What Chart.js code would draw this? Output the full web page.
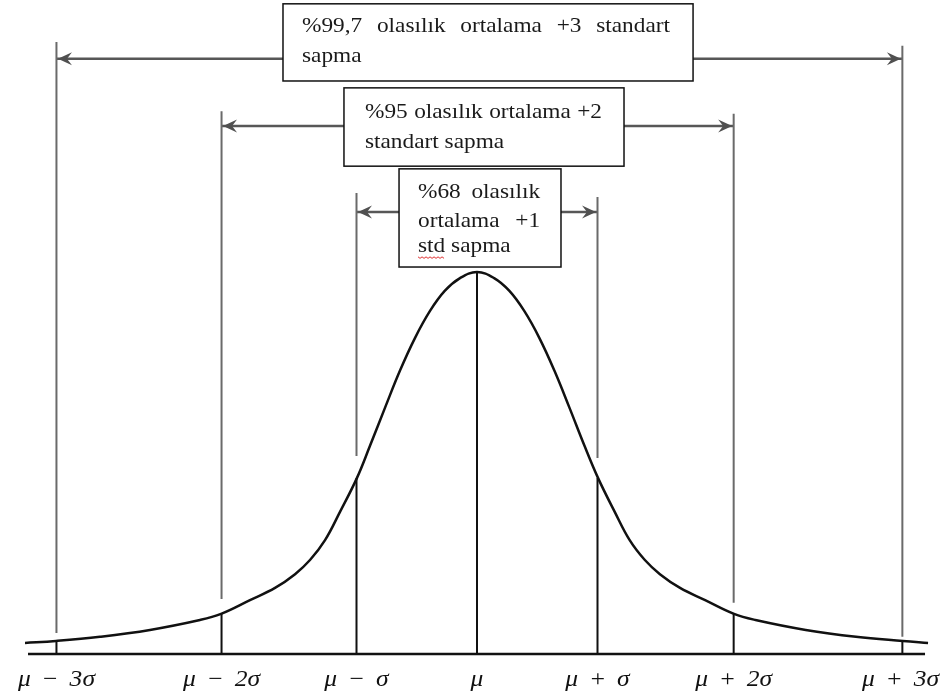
<!DOCTYPE html>
<html>
<head>
<meta charset="utf-8">
<script src="https://cdn.jsdelivr.net/npm/chart.js@4"></script>
<style>
  html, body { margin: 0; padding: 0; background: #fff; }
  canvas { display: block; }
</style>
</head>
<body>
<canvas id="grafico-normal" width="943" height="698"></canvas>
<script>
// Etiquetas del eje y su posición (en unidades de sigma, tal como está dibujado)
const etiquetas = ["μ − 3σ", "μ − 2σ", "μ − σ", "μ", "μ + σ", "μ + 2σ", "μ + 3σ"];
const posiciones = [-3.49, -2.12, -1.0, 0, 1.0, 2.13, 3.53];

// Altura de la curva en cada posición (pico = 1)
const alturaCurva = [0.034, 0.105, 0.461, 1.0, 0.461, 0.105, 0.034];

// Líneas guía grises: extremo superior e inferior (μ no tiene guía)
const guiaArriba = [1.602, 1.421, 1.207, null, 1.196, 1.414, 1.592];
const guiaAbajo = [0.055, 0.144, 0.518, null, 0.513, 0.134, 0.045];

// Curva de campana
const curvaX = [-3.751, -3.494, -3.129, -2.714, -2.299, -2.124, -1.884, -1.676, -1.510, -1.386, -1.261,
  -1.137, -0.996, -0.888, -0.763, -0.639, -0.515, -0.390, -0.266, -0.141, 0,
  0.142, 0.267, 0.392, 0.518, 0.642, 0.767, 0.892, 1.004, 1.143, 1.267, 1.393, 1.518,
  1.685, 1.893, 2.133, 2.311, 2.728, 3.145, 3.535, 3.743];
const curvaY = [0.029, 0.034, 0.045, 0.063, 0.089, 0.105, 0.141, 0.173, 0.209, 0.246, 0.298,
  0.372, 0.461, 0.545, 0.645, 0.742, 0.827, 0.898, 0.951, 0.984, 1.0,
  0.984, 0.951, 0.898, 0.827, 0.742, 0.645, 0.545, 0.461, 0.372, 0.298, 0.246, 0.209,
  0.173, 0.141, 0.105, 0.089, 0.063, 0.045, 0.034, 0.029];

// Extremos de la línea base
const baseX = [-3.726, 3.718];

// Cuadros de texto
const cuadroTextos = [
  ["%99,7 olasılık ortalama +3 standart", "sapma"],
  ["%95 olasılık ortalama +2", "standart sapma"],
  ["%68 olasılık", "ortalama +1", "std sapma"]
];
const cuadroIzq = [-1.610, -1.104, -0.647];
const cuadroDer = [1.793, 1.220, 0.697];
const cuadroArriba = [1.702, 1.482, 1.270];
const cuadroAbajo = [1.500, 1.277, 1.013];

// Flechas: altura y guía a la que apunta cada lado
const flechaY = [1.558, 1.382, 1.157];
const flechaIzq = [0, 1, 2];
const flechaDer = [6, 5, 4];

// Segmentos verticales separados por null para cortar la línea
function verticales(xs, desde, hasta) {
  const pts = [];
  xs.forEach((x, i) => {
    if (desde[i] == null || hasta[i] == null) return;
    pts.push({ x, y: desde[i] }, { x, y: hasta[i] }, { x, y: null });
  });
  return pts;
}

const puntosFlechas = [];
flechaY.forEach((y, i) => {
  puntosFlechas.push({ x: cuadroIzq[i], y }, { x: posiciones[flechaIzq[i]], y }, { x: cuadroIzq[i], y: null });
  puntosFlechas.push({ x: cuadroDer[i], y }, { x: posiciones[flechaDer[i]], y }, { x: cuadroDer[i], y: null });
});

// el texto va algo ensanchado horizontalmente
const ensanche = 1.11;
const estiloTexto = {
  fuente: "21px 'Liberation Serif'",
  margen: [19, 21, 19],
  ancho: [368, 237, 122],
  renglones: [[28, 58], [30, 60], [29, 58, 83]]
};

function textoAncho(ctx, t, x, y) {
  ctx.save();
  ctx.translate(x, y);
  ctx.scale(ensanche, 1);
  ctx.fillText(t, 0, 0);
  ctx.restore();
}

function medir(ctx, t) {
  return ctx.measureText(t).width * ensanche;
}

function renglonJustificado(ctx, texto, x, y, ancho, justificar) {
  const palabras = texto.split(" ");
  if (!justificar || palabras.length < 2) {
    textoAncho(ctx, texto, x, y);
    return;
  }
  const total = palabras.reduce((s, p) => s + medir(ctx, p), 0);
  const hueco = (ancho - total) / (palabras.length - 1);
  let cx = x;
  palabras.forEach(p => {
    textoAncho(ctx, p, cx, y);
    cx += medir(ctx, p) + hueco;
  });
}

const anotaciones = {
  id: "anotaciones",
  afterDatasetsDraw(chart) {
    const ctx = chart.ctx;
    const sx = chart.scales.x;
    const sy = chart.scales.y;
    ctx.save();

    // puntas de flecha
    ctx.fillStyle = "#505050";
    flechaY.forEach((y, i) => {
      const py = sy.getPixelForValue(y);
      [[flechaIzq[i], -1], [flechaDer[i], 1]].forEach(([g, dir]) => {
        const px = sx.getPixelForValue(posiciones[g]) - dir * 1.5;
        ctx.beginPath();
        ctx.moveTo(px, py);
        ctx.lineTo(px - dir * 14, py - 6.5);
        ctx.lineTo(px - dir * 9, py);
        ctx.lineTo(px - dir * 14, py + 6.5);
        ctx.closePath();
        ctx.fill();
      });
    });

    // cuadros con texto
    cuadroTextos.forEach((lineas, i) => {
      const x0 = sx.getPixelForValue(cuadroIzq[i]);
      const x1 = sx.getPixelForValue(cuadroDer[i]);
      const y0 = sy.getPixelForValue(cuadroArriba[i]);
      const y1 = sy.getPixelForValue(cuadroAbajo[i]);
      ctx.fillStyle = "#fff";
      ctx.fillRect(x0, y0, x1 - x0, y1 - y0);
      ctx.strokeStyle = "#111";
      ctx.lineWidth = 1.5;
      ctx.strokeRect(x0, y0, x1 - x0, y1 - y0);

      ctx.fillStyle = "#1a1a1a";
      ctx.font = estiloTexto.fuente;
      ctx.textBaseline = "alphabetic";
      ctx.textAlign = "left";
      lineas.forEach((t, j) => {
        renglonJustificado(ctx, t, x0 + estiloTexto.margen[i], y0 + estiloTexto.renglones[i][j],
          estiloTexto.ancho[i], j < lineas.length - 1);
      });

      // subrayado ondulado del corrector bajo "std"
      if (i === 2) {
        const ty = y0 + estiloTexto.renglones[i][2] + 5;
        const tx = x0 + estiloTexto.margen[i];
        const w = medir(ctx, "std");
        ctx.strokeStyle = "#e03030";
        ctx.lineWidth = 1;
        ctx.beginPath();
        for (let k = 0; k <= w; k += 2) {
          const yy = ty + (k % 4 === 0 ? 0 : 1.5);
          k === 0 ? ctx.moveTo(tx + k, yy) : ctx.lineTo(tx + k, yy);
        }
        ctx.stroke();
      }
    });

    // etiquetas del eje
    ctx.fillStyle = "#111";
    ctx.font = "italic 23px 'Liberation Serif'";
    ctx.wordSpacing = "4px";
    ctx.textAlign = "left";
    const yEtiqueta = sy.getPixelForValue(0) + 32;
    etiquetas.forEach((t, i) => {
      const w = medir(ctx, t);
      let x = sx.getPixelForValue(posiciones[i]) - w / 2;
      x = Math.max(10, Math.min(chart.width - 4 - w, x));
      textoAncho(ctx, t, x, yEtiqueta);
    });

    ctx.restore();
  }
};

new Chart(document.getElementById("grafico-normal"), {
  type: "line",
  data: {
    datasets: [
      {
        label: "guías",
        data: verticales(posiciones, guiaAbajo, guiaArriba),
        borderColor: "#6a6a6a",
        borderWidth: 2,
        pointRadius: 0,
        spanGaps: false
      },
      {
        label: "flechas",
        data: puntosFlechas,
        borderColor: "#575757",
        borderWidth: 2.5,
        pointRadius: 0,
        spanGaps: false
      },
      {
        label: "base",
        data: baseX.map(x => ({ x, y: 0 })),
        borderColor: "#111",
        borderWidth: 2.5,
        pointRadius: 0
      },
      {
        label: "alturas",
        data: verticales(posiciones, posiciones.map(() => 0), alturaCurva),
        borderColor: "#111",
        borderWidth: 2,
        pointRadius: 0,
        spanGaps: false
      },
      {
        label: "curva",
        data: curvaX.map((x, i) => ({ x, y: curvaY[i] })),
        borderColor: "#111",
        borderWidth: 2.5,
        pointRadius: 0,
        tension: 0.4
      }
    ]
  },
  options: {
    responsive: false,
    animation: false,
    devicePixelRatio: 1,
    layout: { padding: 0 },
    plugins: {
      legend: { display: false },
      tooltip: { enabled: false }
    },
    scales: {
      x: { type: "linear", display: false, min: -3.9585, max: 3.8672 },
      y: { type: "linear", display: false, min: -0.1152, max: 1.712 }
    }
  },
  plugins: [anotaciones]
});
</script>
</body>
</html>
